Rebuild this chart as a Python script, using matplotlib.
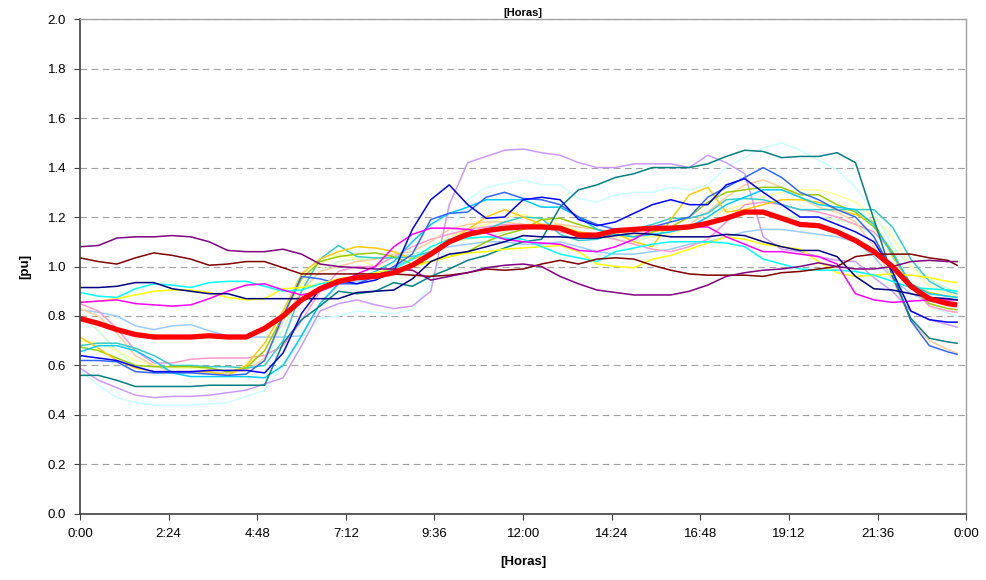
import matplotlib
matplotlib.use("Agg")
import matplotlib.pyplot as plt

plt.rcParams['font.family'] = ['Liberation Sans', 'DejaVu Sans']

# hora del dia, cada media hora (0:00 .. 23:45)
horas = [0, 0.5, 1, 1.5, 2, 2.5, 3, 3.5, 4, 4.5, 5, 5.5,
         6, 6.5, 7, 7.5, 8, 8.5, 9, 9.5, 10, 10.5, 11, 11.5,
         12, 12.5, 13, 13.5, 14, 14.5, 15, 15.5, 16, 16.5, 17, 17.5,
         18, 18.5, 19, 19.5, 20, 20.5, 21, 21.5, 22, 22.5, 23, 23.5,
         23.75]

s_purpura = [1.08, 1.085, 1.115, 1.12, 1.12, 1.125, 1.12, 1.10, 1.065, 1.06, 1.06, 1.07,
             1.05, 1.01, 1.0, 0.995, 0.99, 0.99, 0.985, 0.945, 0.96, 0.975, 0.995, 1.005,
             1.01, 1.0, 0.96, 0.93, 0.905, 0.895, 0.885, 0.885, 0.885, 0.90, 0.925, 0.96,
             0.975, 0.985, 0.99, 1.0, 1.015, 1.0, 0.99, 0.99, 1.0, 1.02, 1.025, 1.02,
             1.02]
s_granate = [1.035, 1.02, 1.01, 1.035, 1.055, 1.045, 1.03, 1.005, 1.01, 1.02, 1.02, 0.995,
             0.97, 0.97, 0.97, 0.97, 0.97, 0.97, 0.965, 0.96, 0.965, 0.975, 0.99, 0.985,
             0.99, 1.01, 1.025, 1.01, 1.03, 1.035, 1.03, 1.005, 0.985, 0.97, 0.965, 0.965,
             0.965, 0.96, 0.975, 0.98, 0.99, 1.0, 1.04, 1.05, 1.05, 1.05, 1.035, 1.025,
             1.005]
s_marino = [0.915, 0.915, 0.92, 0.935, 0.935, 0.91, 0.90, 0.89, 0.89, 0.87, 0.87, 0.87,
            0.87, 0.87, 0.87, 0.895, 0.90, 0.905, 0.95, 1.02, 1.05, 1.06, 1.08, 1.10,
            1.125, 1.12, 1.12, 1.115, 1.115, 1.125, 1.135, 1.13, 1.12, 1.12, 1.12, 1.13,
            1.125, 1.10, 1.08, 1.065, 1.065, 1.04, 0.96, 0.91, 0.905, 0.89, 0.875, 0.87,
            0.865]
s_cian = [0.895, 0.88, 0.875, 0.91, 0.93, 0.925, 0.915, 0.935, 0.94, 0.94, 0.92, 0.90,
          0.905, 0.93, 0.94, 0.95, 0.96, 0.99, 1.03, 1.08, 1.11, 1.115, 1.12, 1.115,
          1.11, 1.08, 1.05, 1.035, 1.02, 1.06, 1.075, 1.09, 1.10, 1.10, 1.10, 1.095,
          1.08, 1.03, 1.01, 0.99, 0.985, 0.985, 0.98, 0.965, 0.94, 0.915, 0.91, 0.905,
          0.90]
s_amarillo = [0.855, 0.86, 0.87, 0.885, 0.90, 0.905, 0.905, 0.895, 0.875, 0.865, 0.87, 0.91,
              0.915, 0.93, 0.95, 0.96, 0.975, 0.99, 1.0, 1.02, 1.04, 1.055, 1.06, 1.07,
              1.075, 1.08, 1.085, 1.06, 1.01, 1.0, 0.995, 1.03, 1.045, 1.07, 1.095, 1.12,
              1.11, 1.09, 1.08, 1.07, 1.02, 0.975, 0.96, 0.965, 0.97, 0.965, 0.955, 0.94,
              0.935]
s_magenta = [0.855, 0.86, 0.865, 0.85, 0.845, 0.84, 0.845, 0.87, 0.90, 0.925, 0.93, 0.905,
             0.885, 0.90, 0.93, 0.97, 1.0, 1.08, 1.13, 1.155, 1.155, 1.15, 1.135, 1.11,
             1.10, 1.095, 1.09, 1.065, 1.06, 1.08, 1.11, 1.15, 1.16, 1.16, 1.16, 1.12,
             1.09, 1.06, 1.06, 1.05, 1.04, 1.01, 0.89, 0.865, 0.855, 0.86, 0.865, 0.865,
             0.865]
s_celeste = [0.825, 0.815, 0.80, 0.76, 0.745, 0.76, 0.765, 0.74, 0.72, 0.715, 0.715, 0.715,
             0.72, 0.85, 0.93, 0.94, 0.96, 1.0, 1.03, 1.06, 1.08, 1.09, 1.10, 1.10,
             1.09, 1.09, 1.10, 1.08, 1.06, 1.05, 1.05, 1.06, 1.07, 1.09, 1.10, 1.12,
             1.14, 1.15, 1.15, 1.14, 1.13, 1.12, 1.10, 1.04, 0.95, 0.89, 0.86, 0.855,
             0.85]
s_verdeazul = [0.56, 0.56, 0.54, 0.515, 0.515, 0.515, 0.515, 0.52, 0.52, 0.52, 0.52, 0.69,
               0.785, 0.84, 0.90, 0.89, 0.90, 0.935, 0.92, 0.96, 0.99, 1.025, 1.045, 1.075,
               1.10, 1.11, 1.24, 1.31, 1.33, 1.36, 1.375, 1.40, 1.40, 1.40, 1.415, 1.445,
               1.47, 1.465, 1.44, 1.445, 1.445, 1.46, 1.42, 1.19, 0.96, 0.79, 0.71, 0.695,
               0.69]
s_lavanda = [0.59, 0.54, 0.51, 0.48, 0.47, 0.475, 0.475, 0.48, 0.49, 0.50, 0.525, 0.55,
             0.68, 0.82, 0.85, 0.865, 0.845, 0.83, 0.84, 0.90, 1.25, 1.42, 1.445, 1.47,
             1.475, 1.46, 1.45, 1.42, 1.40, 1.40, 1.415, 1.415, 1.415, 1.40, 1.45, 1.42,
             1.375, 1.12, 1.07, 1.06, 1.04, 1.025, 1.02, 0.955, 0.90, 0.82, 0.785, 0.765,
             0.755]
s_cianclaro = [0.58, 0.52, 0.47, 0.45, 0.44, 0.44, 0.44, 0.445, 0.45, 0.475, 0.50, 0.60,
               0.71, 0.79, 0.80, 0.82, 0.815, 0.81, 0.825, 0.93, 1.12, 1.27, 1.32, 1.335,
               1.35, 1.33, 1.33, 1.275, 1.26, 1.29, 1.30, 1.30, 1.32, 1.31, 1.33, 1.40,
               1.44, 1.48, 1.50, 1.47, 1.43, 1.39, 1.32, 1.22, 1.08, 0.92, 0.84, 0.81,
               0.80]
s_azul = [0.64, 0.63, 0.62, 0.595, 0.575, 0.575, 0.575, 0.58, 0.58, 0.58, 0.57, 0.65,
          0.81, 0.91, 0.945, 0.93, 0.945, 0.98, 1.15, 1.27, 1.33, 1.25, 1.195, 1.20,
          1.27, 1.28, 1.27, 1.19, 1.165, 1.18, 1.215, 1.25, 1.27, 1.25, 1.25, 1.33,
          1.355, 1.30, 1.25, 1.20, 1.20, 1.17, 1.14, 1.10, 0.98, 0.82, 0.785, 0.775,
          0.775]
s_azulreal = [0.62, 0.62, 0.615, 0.575, 0.57, 0.57, 0.57, 0.565, 0.56, 0.565, 0.62, 0.80,
              0.96, 0.95, 0.93, 0.93, 0.96, 1.0, 1.05, 1.19, 1.215, 1.22, 1.28, 1.30,
              1.275, 1.27, 1.25, 1.20, 1.17, 1.15, 1.15, 1.16, 1.18, 1.20, 1.28, 1.32,
              1.36, 1.40, 1.36, 1.30, 1.27, 1.23, 1.20, 1.12, 0.98, 0.78, 0.68, 0.655,
              0.645]
s_cielo = [0.655, 0.68, 0.68, 0.66, 0.62, 0.57, 0.555, 0.555, 0.555, 0.555, 0.55, 0.60,
           0.72, 0.85, 0.93, 0.95, 0.98, 1.02, 1.10, 1.17, 1.215, 1.24, 1.27, 1.27,
           1.27, 1.24, 1.24, 1.20, 1.15, 1.13, 1.12, 1.13, 1.14, 1.16, 1.20, 1.25,
           1.28, 1.31, 1.31, 1.28, 1.25, 1.24, 1.23, 1.17, 1.05, 0.93, 0.89, 0.88,
           0.875]
s_turquesa = [0.68, 0.69, 0.69, 0.67, 0.64, 0.60, 0.60, 0.595, 0.595, 0.59, 0.60, 0.70,
              0.90, 1.03, 1.085, 1.04, 1.035, 1.035, 1.04, 1.06, 1.10, 1.12, 1.15, 1.18,
              1.20, 1.195, 1.13, 1.105, 1.11, 1.135, 1.15, 1.17, 1.195, 1.195, 1.215, 1.27,
              1.275, 1.27, 1.25, 1.23, 1.23, 1.23, 1.23, 1.23, 1.16, 1.03, 0.94, 0.90,
              0.89]
s_oro = [0.715, 0.67, 0.62, 0.59, 0.575, 0.575, 0.575, 0.575, 0.56, 0.60, 0.69, 0.82,
         0.97, 1.03, 1.06, 1.08, 1.075, 1.06, 1.03, 1.05, 1.10, 1.15, 1.20, 1.23,
         1.20, 1.17, 1.16, 1.14, 1.13, 1.135, 1.10, 1.08, 1.19, 1.29, 1.32, 1.22,
         1.23, 1.25, 1.27, 1.27, 1.26, 1.23, 1.21, 1.18, 1.04, 0.93, 0.895, 0.88,
         0.875]
s_lima = [0.675, 0.66, 0.63, 0.60, 0.595, 0.595, 0.595, 0.59, 0.575, 0.59, 0.66, 0.80,
          0.95, 1.02, 1.04, 1.05, 1.055, 1.04, 1.01, 1.02, 1.04, 1.06, 1.10, 1.13,
          1.15, 1.19, 1.195, 1.17, 1.15, 1.13, 1.12, 1.14, 1.16, 1.20, 1.26, 1.30,
          1.31, 1.32, 1.32, 1.29, 1.29, 1.25, 1.22, 1.16, 1.06, 0.92, 0.85, 0.83,
          0.825]
s_durazno = [0.83, 0.80, 0.73, 0.64, 0.60, 0.575, 0.575, 0.57, 0.57, 0.58, 0.63, 0.78,
             0.90, 0.98, 1.0, 1.02, 1.03, 1.05, 1.06, 1.10, 1.15, 1.17, 1.18, 1.18,
             1.17, 1.17, 1.17, 1.16, 1.15, 1.14, 1.13, 1.14, 1.15, 1.17, 1.22, 1.28,
             1.33, 1.35, 1.32, 1.28, 1.24, 1.22, 1.18, 1.08, 0.95, 0.78, 0.70, 0.665,
             0.65]
s_rosa = [0.85, 0.82, 0.75, 0.66, 0.61, 0.61, 0.625, 0.63, 0.63, 0.63, 0.64, 0.68,
          0.78, 0.90, 0.98, 1.0, 1.0, 1.04, 1.08, 1.11, 1.13, 1.15, 1.16, 1.17,
          1.17, 1.16, 1.14, 1.13, 1.13, 1.11, 1.09, 1.07, 1.06, 1.08, 1.11, 1.18,
          1.25, 1.26, 1.25, 1.23, 1.22, 1.20, 1.17, 1.14, 1.06, 0.92, 0.84, 0.82,
          0.815]
s_verdeclaro = [0.80, 0.74, 0.66, 0.60, 0.57, 0.57, 0.57, 0.57, 0.57, 0.58, 0.62, 0.75,
                0.90, 0.98, 1.02, 1.03, 1.03, 1.04, 1.05, 1.07, 1.10, 1.11, 1.12, 1.14,
                1.16, 1.16, 1.15, 1.13, 1.12, 1.11, 1.10, 1.12, 1.15, 1.16, 1.18, 1.20,
                1.22, 1.21, 1.20, 1.20, 1.20, 1.19, 1.17, 1.13, 1.08, 1.0, 0.95, 0.91,
                0.90]
s_amarilloclaro = [0.70, 0.69, 0.66, 0.62, 0.60, 0.59, 0.59, 0.585, 0.58, 0.60, 0.66, 0.80,
                   0.93, 1.01, 1.05, 1.03, 1.0, 1.01, 1.03, 1.08, 1.12, 1.15, 1.17, 1.20,
                   1.21, 1.19, 1.17, 1.14, 1.12, 1.12, 1.12, 1.12, 1.13, 1.16, 1.20, 1.23,
                   1.25, 1.28, 1.30, 1.31, 1.31, 1.29, 1.26, 1.20, 1.12, 1.0, 0.92, 0.89,
                   0.88]
promedio = [0.79, 0.77, 0.745, 0.725, 0.715, 0.715, 0.715, 0.72, 0.715, 0.715, 0.75, 0.80,
            0.865, 0.91, 0.94, 0.955, 0.96, 0.975, 1.005, 1.05, 1.10, 1.13, 1.145, 1.155,
            1.16, 1.16, 1.155, 1.127, 1.127, 1.145, 1.15, 1.155, 1.155, 1.16, 1.175, 1.195,
            1.22, 1.22, 1.195, 1.17, 1.165, 1.14, 1.105, 1.06, 1.0, 0.92, 0.87, 0.85,
            0.845]

series = [
    (s_verdeclaro, '#CCFFCC'), (s_amarilloclaro, '#FFFF99'), (s_cianclaro, '#CCFFFF'),
    (s_celeste, '#99CCFF'), (s_rosa, '#FF99CC'), (s_durazno, '#FFCC99'), (s_lavanda, '#CC99FF'),
    (s_turquesa, '#33CCCC'), (s_lima, '#99CC00'), (s_oro, '#FFCC00'), (s_cielo, '#00CCFF'),
    (s_azulreal, '#3366FF'), (s_verdeazul, '#008080'), (s_amarillo, '#FFFF00'), (s_cian, '#00FFFF'),
    (s_magenta, '#FF00FF'), (s_azul, '#0000FF'), (s_marino, '#000080'),
    (s_granate, '#800000'), (s_purpura, '#800080'),
]

fig = plt.figure(figsize=(9.87, 5.8), dpi=100)
ax = fig.add_axes([0.081, 0.114, 0.898, 0.853])

for vals, col in series:
    ax.plot(horas, vals, color=col, lw=1.1)
ax.plot(horas, promedio, color='#FF0000', lw=3.8, solid_capstyle='butt')

ax.set_xlim(0, 24)
ax.set_ylim(0, 2.0)
xt = [i * 2.4 for i in range(11)]
ax.set_xticks(xt)
ax.set_xticklabels(['0:00', '2:24', '4:48', '7:12', '9:36', '12:00', '14:24', '16:48', '19:12', '21:36', '0:00'])
ax.set_yticks([i * 0.2 for i in range(11)])
ax.set_yticklabels(['%.1f' % (i * 0.2) for i in range(11)])
ax.tick_params(labelsize=9.5, length=4, width=0.8, color='#404040', pad=6)

ax.yaxis.grid(True, color='#A0A0A0', linestyle=(0, (6, 4)), lw=0.8)
ax.set_axisbelow(True)
for s in ['left', 'bottom']:
    ax.spines[s].set_color('#404040')
    ax.spines[s].set_linewidth(1.2)
for s in ['top', 'right']:
    ax.spines[s].set_color('#A0A0A0')
    ax.spines[s].set_linewidth(1.0)

ax.set_xlabel('[Horas]', fontsize=9.5, fontweight='bold', labelpad=12)
ax.set_ylabel('[pu]', fontsize=9.5, fontweight='bold', labelpad=12)
ax.set_title('[Horas]', fontsize=8, fontweight='bold', pad=2)

fig.savefig('out.png', dpi=100)
